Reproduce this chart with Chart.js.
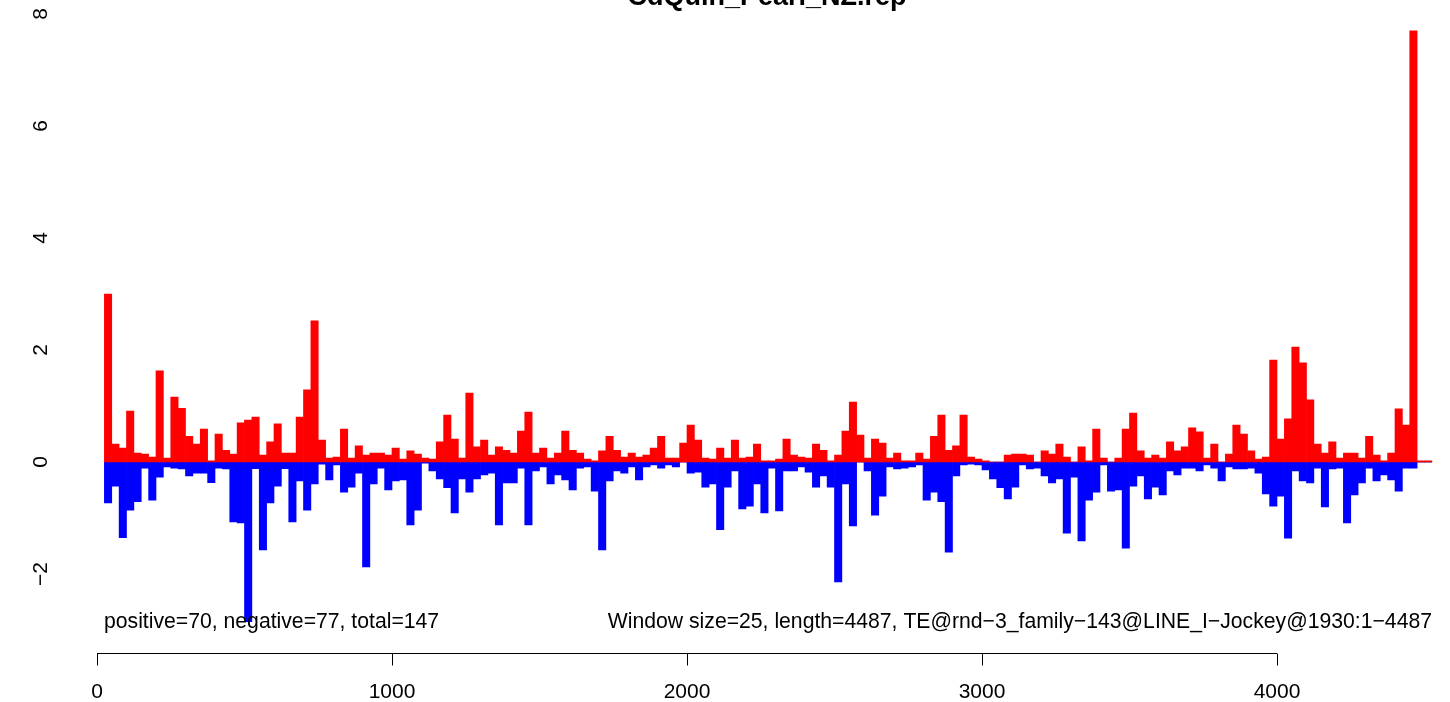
<!DOCTYPE html>
<html>
<head>
<meta charset="utf-8">
<script src="https://cdn.jsdelivr.net/npm/chart.js@4.4.0/dist/chart.umd.min.js"></script>
<style>
  html, body { margin: 0; padding: 0; background: #ffffff; }
  #wrap { width: 1450px; height: 702px; }
</style>
</head>
<body>
<div id="wrap"><canvas id="barChart" width="1450" height="702"></canvas></div>
<script>
// window scores (window size 25)
const windowSize = 25;
const positiveScores = [
  3.0, 0.32, 0.25, 0.91, 0.16, 0.14, 0.09, 1.63, 0.07, 1.16,
  0.96, 0.46, 0.32, 0.59, 0.02, 0.50, 0.21, 0.14, 0.70, 0.75,
  0.80, 0.125, 0.36, 0.68, 0.16, 0.16, 0.80, 1.29, 2.52, 0.39,
  0.07, 0.09, 0.59, 0.07, 0.29, 0.125, 0.16, 0.16, 0.125, 0.25,
  0.05, 0.2, 0.14, 0.07, 0.05, 0.36, 0.84, 0.41, 0.07, 1.23,
  0.27, 0.39, 0.125, 0.27, 0.21, 0.16, 0.55, 0.89, 0.16, 0.25,
  0.07, 0.16, 0.55, 0.21, 0.16, 0.05, 0.02, 0.2, 0.46, 0.21,
  0.09, 0.16, 0.09, 0.125, 0.25, 0.46, 0.07, 0.07, 0.34, 0.66,
  0.39, 0.07, 0.05, 0.25, 0.07, 0.39, 0.07, 0.09, 0.32, 0.02,
  0.02, 0.05, 0.41, 0.125, 0.09, 0.07, 0.32, 0.21, 0.02, 0.125,
  0.55, 1.07, 0.48, 0.07, 0.41, 0.34, 0.07, 0.16, 0.02, 0.02,
  0.16, 0.05, 0.46, 0.84, 0.21, 0.29, 0.84, 0.09, 0.05, 0.02,
  0, 0, 0.125, 0.14, 0.14, 0.125, 0, 0.2, 0.14, 0.32,
  0.09, 0, 0.27, 0.02, 0.59, 0.07, 0, 0.07, 0.59, 0.875,
  0.2, 0.07, 0.125, 0.07, 0.36, 0.2, 0.27, 0.61, 0.54, 0.07,
  0.32, 0, 0.14, 0.66, 0.5, 0.2, 0.05, 0.09, 1.82, 0.41,
  0.77, 2.05, 1.77, 1.11, 0.32, 0.16, 0.36, 0.07, 0.16, 0.16,
  0.07, 0.46, 0.125, 0.02, 0.16, 0.95, 0.66, 7.7, 0.02, 0.02
];
const negativeScores = [
  -0.73, -0.43, -1.35, -0.86, -0.71, -0.11, -0.68, -0.27, -0.09, -0.11,
  -0.125, -0.25, -0.2, -0.2, -0.37, -0.11, -0.125, -1.07, -1.09, -2.85,
  -0.12, -1.57, -0.73, -0.43, -0.12, -1.07, -0.34, -0.86, -0.39, -0.04,
  -0.32, -0.05, -0.54, -0.45, -0.2, -1.875, -0.39, -0.11, -0.5, -0.34,
  -0.32, -1.125, -0.86, -0.02, -0.16, -0.30, -0.46, -0.91, -0.30, -0.54,
  -0.30, -0.23, -0.2, -1.125, -0.375, -0.375, -0.11, -1.125, -0.16, -0.09,
  -0.39, -0.23, -0.32, -0.5, -0.11, -0.09, -0.52, -1.57, -0.34, -0.16,
  -0.2, -0.09, -0.32, -0.09, -0.05, -0.11, -0.05, -0.09, 0, -0.2,
  -0.18, -0.45, -0.39, -1.21, -0.45, -0.16, -0.84, -0.79, -0.39, -0.91,
  -0.11, -0.875, -0.16, -0.16, -0.09, -0.18, -0.45, -0.25, -0.45, -2.14,
  -0.39, -1.14, 0, -0.16, -0.95, -0.61, -0.09, -0.125, -0.11, -0.09,
  -0.05, -0.68, -0.54, -0.71, -1.61, -0.25, -0.05, -0.04, -0.05, -0.14,
  -0.30, -0.46, -0.66, -0.45, -0.05, -0.125, -0.11, -0.25, -0.375, -0.30,
  -1.27, -0.27, -1.41, -0.68, -0.54, -0.05, -0.52, -0.5, -1.54, -0.43,
  -0.25, -0.66, -0.45, -0.59, -0.16, -0.23, -0.11, -0.11, -0.16, -0.05,
  -0.11, -0.34, -0.09, -0.125, -0.125, -0.11, -0.2, -0.57, -0.79, -0.61,
  -1.36, -0.16, -0.34, -0.375, -0.11, -0.80, -0.125, -0.11, -1.09, -0.59,
  -0.375, -0.11, -0.34, -0.23, -0.32, -0.52, -0.11, -0.11, 0, 0
];
const xTicks = [0, 1000, 2000, 3000, 4000];
const yTicks = [-2, 0, 2, 4, 6, 8];
const titleText = 'CdQuin_Pearl_NZ.rep';
const leftNote = 'positive=70, negative=77, total=147';
const rightNote = 'Window size=25, length=4487, TE@rnd\u22123_family\u2212143@LINE_I\u2212Jockey@1930:1\u22124487';

// bar centres: window k covers [k*25, (k+1)*25]
const windowCentres = positiveScores.map((v, i) => (i + 1) * windowSize + windowSize / 2);

const FONT = '"Liberation Sans", Arial, Helvetica, sans-serif';

const rAxes = {
    id: 'rAxes',
    beforeDatasetsDraw(chart) {
        const ctx = chart.ctx, xs = chart.scales.x, ys = chart.scales.y;
        ctx.save();
        ctx.strokeStyle = '#bebebe';
        ctx.lineWidth = 1;
        ctx.beginPath();
        const y0 = Math.round(ys.getPixelForValue(0)) + 0.5;
        ctx.moveTo(xs.getPixelForValue(windowSize), y0);
        ctx.lineTo(xs.getPixelForValue(windowCentres[windowCentres.length - 1] + windowSize / 2), y0);
        ctx.stroke();
        ctx.restore();
    },
    afterDraw(chart) {
        const ctx = chart.ctx, xs = chart.scales.x, ys = chart.scales.y;
        const area = chart.chartArea;
        ctx.save();
        ctx.fillStyle = '#000';
        ctx.strokeStyle = '#000';
        ctx.lineWidth = 1;

        // x axis (R style, only between first and last tick)
        const axY = Math.round(area.bottom + 23) + 0.5;
        ctx.beginPath();
        ctx.moveTo(xs.getPixelForValue(xTicks[0]), axY);
        ctx.lineTo(xs.getPixelForValue(xTicks[xTicks.length - 1]), axY);
        xTicks.forEach(t => {
            const px = Math.round(xs.getPixelForValue(t)) + 0.5;
            ctx.moveTo(px, axY);
            ctx.lineTo(px, axY + 12);
        });
        ctx.stroke();
        ctx.font = '21px ' + FONT;
        ctx.textAlign = 'center';
        ctx.textBaseline = 'alphabetic';
        xTicks.forEach(t => ctx.fillText(String(t), xs.getPixelForValue(t), axY + 44));

        // y labels, rotated like las=0
        yTicks.forEach(t => {
            ctx.save();
            ctx.translate(47, ys.getPixelForValue(t));
            ctx.rotate(-Math.PI / 2);
            ctx.textAlign = 'center';
            ctx.fillText(t < 0 ? '\u2212' + Math.abs(t) : String(t), 0, 0);
            ctx.restore();
        });

        // title, clipped by the top edge
        ctx.font = 'bold 27px ' + FONT;
        ctx.textAlign = 'center';
        ctx.fillText(titleText, 767, 5);

        // notes inside the plot
        ctx.font = '21.2px ' + FONT;
        ctx.textAlign = 'left';
        ctx.fillText(leftNote, 104, 628);
        ctx.textAlign = 'right';
        ctx.fillText(rightNote, 1432, 628);
        ctx.restore();
    }
};

new Chart(document.getElementById('barChart'), {
    type: 'bar',
    data: {
        datasets: [{
            label: 'positive',
            data: windowCentres.map((x, i) => ({ x: x, y: positiveScores[i] })),
            backgroundColor: '#ff0000',
            borderWidth: 0,
            barPercentage: 1,
            categoryPercentage: 1,
            grouped: false
        }, {
            label: 'negative',
            data: windowCentres.map((x, i) => ({ x: x, y: negativeScores[i] })),
            backgroundColor: '#0000ff',
            borderWidth: 0,
            barPercentage: 1,
            categoryPercentage: 1,
            grouped: false
        }]
    },
    options: {
        responsive: false,
        animation: false,
        devicePixelRatio: 1,
        layout: { padding: { left: 60.125, right: 10.75, top: 2.8, bottom: 72 } },
        plugins: { legend: { display: false }, tooltip: { enabled: false }, title: { display: false } },
        scales: {
            x: { type: 'linear', min: -125, max: 4550, offset: false, display: false },
            y: { min: -3, max: 8.2, display: false }
        }
    },
    plugins: [rAxes]
});
</script>
</body>
</html>
